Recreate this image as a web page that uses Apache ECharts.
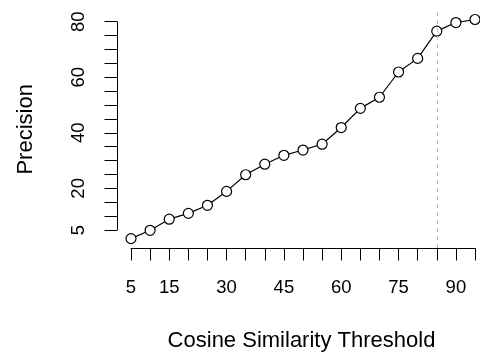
<!DOCTYPE html>
<html>
<head>
<meta charset="utf-8">
<script src="https://cdn.jsdelivr.net/npm/echarts@6/dist/echarts.min.js"></script>
<style>
  html, body { margin: 0; padding: 0; background: #fff; }
  #chart { width: 480px; height: 358px; }
</style>
</head>
<body>
<div id="chart"></div>
<script>
// thresholds and precision values
const thresholds = [5, 10, 15, 20, 25, 30, 35, 40, 45, 50, 55, 60, 65, 70, 75, 80, 85, 90, 95];
const precision = [1.9, 4.9, 8.9, 11.0, 13.9, 18.9, 24.9, 28.7, 31.9, 33.8, 35.9, 41.9, 48.8, 52.8, 61.9, 66.8, 76.6, 79.7, 80.8];
const cutoff = 85;
const xLabels = [5, 15, 30, 45, 60, 75, 90];
const yLabels = [5, 20, 40, 60, 80];

const font = "Liberation Sans, Arial, Helvetica, sans-serif";
const black = "#000";

const chart = echarts.init(document.getElementById("chart"), null, { renderer: "canvas" });

const hiddenAxis = { show: false };

const option = {
    backgroundColor: "#fff",
    animation: false,
    grid: [
        // plotting region (the picture is cut at the right edge)
        { left: 117, right: 0, top: 10.7, bottom: 110, outerBoundsMode: "none", containLabel: false },
        // x axis ticks, 5..95
        { left: 131, right: 5, bottom: 110, top: 10.7, outerBoundsMode: "none", containLabel: false },
        // y axis ticks, 5..80
        { left: 117, right: 5, top: 21.7, bottom: 128, outerBoundsMode: "none", containLabel: false },
    ],
    xAxis: [
        {
            gridIndex: 0, type: "value", min: 1.337, max: 96.31,
            name: "Cosine Similarity Threshold", nameLocation: "middle", nameGap: 82,
            nameTextStyle: { fontFamily: font, fontSize: 22, color: black, padding: [0, 0, 0, 6] },
            axisLine: { show: false }, axisTick: { show: false },
            axisLabel: { show: false }, splitLine: { show: false },
        },
        {
            gridIndex: 1, type: "value", min: 5, max: 95, interval: 5,
            axisLine: { show: true, lineStyle: { color: black, width: 1 } },
            axisTick: { show: true, length: 12.5, lineStyle: { color: black, width: 1 } },
            axisLabel: {
                margin: 30, fontFamily: font, fontSize: 18.5, color: black,
                formatter: (v) => (xLabels.includes(v) ? String(v) : ""),
            },
            splitLine: { show: false },
        },
        { gridIndex: 2, type: "value", ...hiddenAxis },
    ],
    yAxis: [
        {
            gridIndex: 0, type: "value", min: -1.48, max: 83.97,
            name: "Precision", nameLocation: "middle", nameGap: 80,
            nameTextStyle: { fontFamily: font, fontSize: 22, color: black },
            axisLine: { show: false }, axisTick: { show: false },
            axisLabel: { show: false }, splitLine: { show: false },
        },
        { gridIndex: 1, type: "value", ...hiddenAxis },
        {
            gridIndex: 2, type: "value", min: 5, max: 80, interval: 5,
            axisLine: { show: true, lineStyle: { color: black, width: 1 } },
            axisTick: { show: true, length: 12.5, lineStyle: { color: black, width: 1 } },
            axisLabel: {
                rotate: 90, margin: 29, fontFamily: font, fontSize: 18.5, color: black,
                formatter: (v) => (yLabels.includes(v) ? String(v) : ""),
            },
            splitLine: { show: false },
        },
    ],
    series: [
        {
            type: "line",
            xAxisIndex: 0,
            yAxisIndex: 0,
            data: thresholds.map((t, i) => [t, precision[i]]),
            symbol: "circle",
            symbolSize: 10,
            clip: false,
            lineStyle: { color: black, width: 1.2 },
            itemStyle: { color: "#fff", borderColor: black, borderWidth: 1.2 },
            markLine: {
                silent: true,
                symbol: ["none", "none"],
                label: { show: false },
                lineStyle: { color: "#bebebe", type: [4, 4], width: 1 },
                data: [{ xAxis: cutoff }],
            },
            z: 3,
        },
    ],
};

chart.setOption(option);
</script>
</body>
</html>
